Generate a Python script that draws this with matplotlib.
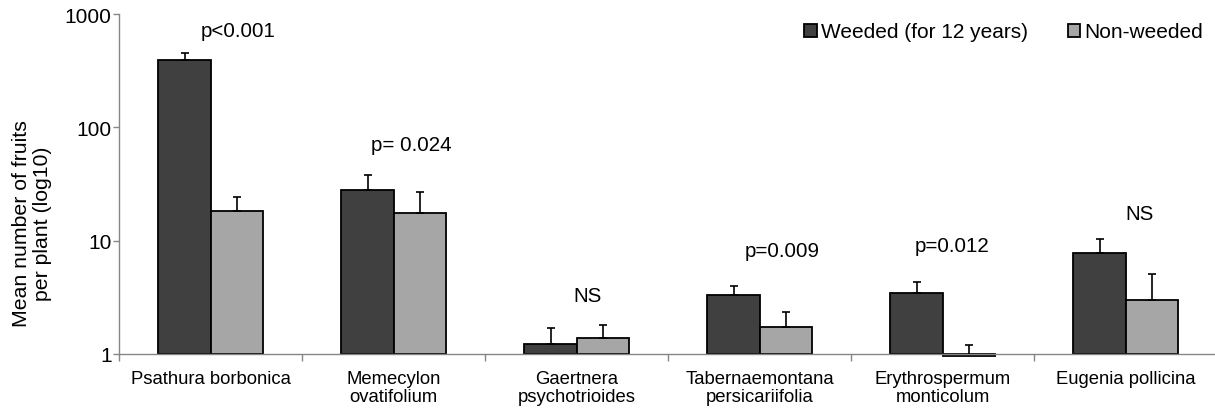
import numpy as np
import matplotlib.pyplot as plt

# ── DATA ──────────────────────────────────────────────────
species = ["Psathura borbonica", "Memecylon\novatifolium", "Gaertnera\npsychotrioides",
           "Tabernaemontana\npersicariifolia", "Erythrospermum\nmonticolum", "Eugenia pollicina"]
weeded = [395, 28.2, 1.21, 3.32, 3.42, 7.7]
weeded_err = [61, 9.8, 0.49, 0.65, 0.86, 2.6]
nonweeded = [18.3, 17.7, 1.37, 1.72, 0.95, 3.0]
nonweeded_err = [6.0, 9.4, 0.42, 0.63, 0.25, 2.07]
p_labels = ["p<0.001", "p= 0.024", "NS", "p=0.009", "p=0.012", "NS"]
p_label_y = [720, 70, 3.3, 8.1, 9.0, 17.2]
p_label_dx = [0.149, 0.094, 0.061, 0.121, 0.05, 0.077]

# ── STYLE ─────────────────────────────────────────────────
plt.rcParams['font.family'] = ['Liberation Sans', 'DejaVu Sans']
dark = '#404040'
light = '#a6a6a6'
axis_col = '#868686'
W, H = 1215, 410

fig = plt.figure(figsize=(W / 100, H / 100), dpi=100)
ax = fig.add_axes([119.3 / W, 1 - 354.7 / H, 1098 / W, 339.4 / H])

x = np.arange(len(species))
w = 0.286

# bars drawn up from 1 (log axis base), one below 1 hangs under the axis
ax.bar(x - w / 2, np.array(weeded) - 1, w, bottom=1, color=dark,
       edgecolor='black', linewidth=1.3, clip_on=False, zorder=2,
       label='Weeded (for 12 years)')
ax.bar(x + w / 2, np.array(nonweeded) - 1, w, bottom=1, color=light,
       edgecolor='black', linewidth=1.3, clip_on=False, zorder=2,
       label='Non-weeded')

ax.errorbar(x - w / 2, weeded, yerr=[np.zeros(6), weeded_err], fmt='none',
            ecolor='black', elinewidth=1.2, capsize=2.8, capthick=1.2, zorder=3)
ax.errorbar(x + w / 2, nonweeded, yerr=[np.zeros(6), nonweeded_err], fmt='none',
            ecolor='black', elinewidth=1.2, capsize=2.8, capthick=1.2, zorder=3)

for i, lab in enumerate(p_labels):
    ax.text(i + p_label_dx[i], p_label_y[i], lab, ha='center', va='center', fontsize=14.8)

ax.set_yscale('log')
ax.set_ylim(1, 1000)
ax.set_xlim(-0.5, len(species) - 0.5)
ax.set_yticks([1, 10, 100, 1000])
ax.set_yticklabels(['1', '10', '100', '1000'])
ax.yaxis.set_minor_locator(plt.NullLocator())
ax.tick_params(axis='y', labelsize=15, length=4.5, width=1, color=axis_col, pad=1)

ax.set_xticks(x)
ax.set_xticklabels(species, fontsize=13.3, linespacing=1.05)
ax.set_xticks(np.arange(-0.5, len(species)), minor=True)
ax.tick_params(axis='x', which='major', length=0, pad=12)
ax.tick_params(axis='x', which='minor', length=5, width=1, color=axis_col)

for s in ['top', 'right']:
    ax.spines[s].set_visible(False)
for s in ['left', 'bottom']:
    ax.spines[s].set_color(axis_col)
    ax.spines[s].set_linewidth(1)

fig.text(32 / W, 1 - 224 / H, "Mean number of fruits\nper plant (log10)", rotation=90,
         ha='center', va='center', fontsize=15.3, multialignment='center', linespacing=1.15)

fig.legend(loc='center right', bbox_to_anchor=(1203 / W, 1 - 33 / H), ncol=2,
           frameon=False, fontsize=15, handlelength=0.6, handleheight=0.6,
           handletextpad=0.2, columnspacing=1.9, borderpad=0, borderaxespad=0)

plt.savefig('out.png', dpi=100)
